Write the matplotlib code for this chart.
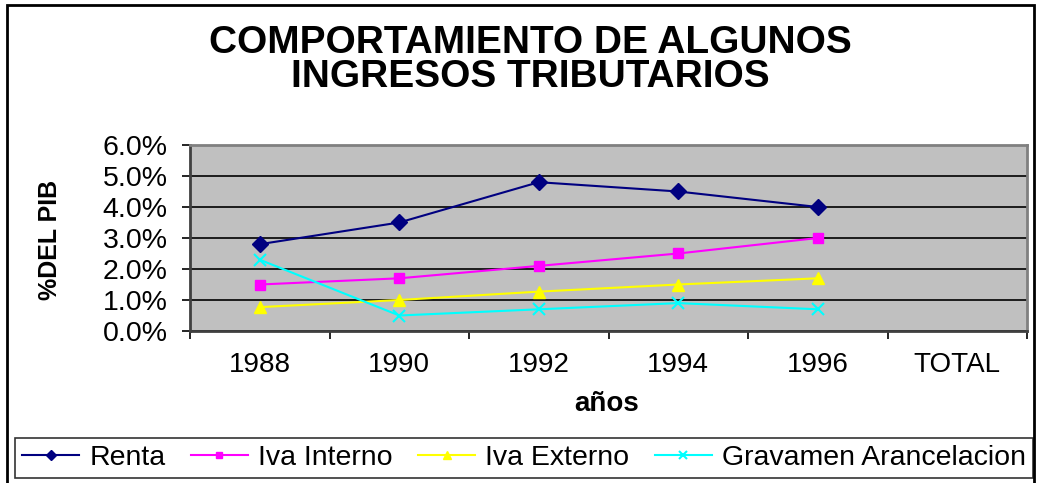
import matplotlib
matplotlib.use("Agg")
import matplotlib.pyplot as plt
from matplotlib.ticker import PercentFormatter, FixedLocator
from matplotlib.patches import Rectangle

categories = ["1988", "1990", "1992", "1994", "1996", "TOTAL"]
renta = [2.8, 3.5, 4.8, 4.5, 4.0]
iva_interno = [1.5, 1.7, 2.1, 2.5, 3.0]
iva_externo = [0.77, 1.0, 1.27, 1.5, 1.7]
gravamen = [2.3, 0.5, 0.7, 0.9, 0.7]
series_names = ["Renta", "Iva Interno", "Iva Externo", "Gravamen Arancelacion"]
title_lines = ["COMPORTAMIENTO DE ALGUNOS", "INGRESOS TRIBUTARIOS"]

plt.rcParams['font.family'] = ['Liberation Sans', 'DejaVu Sans']

W, H = 1037, 483
fig = plt.figure(figsize=(W / 100, H / 100), dpi=100)
fig.patch.set_facecolor("white")

ax = fig.add_axes([190 / W, 1 - 331 / H, (1027 - 190) / W, (331 - 145) / H])
ax.set_facecolor("#C0C0C0")

x = list(range(len(renta)))
styles = [
    (renta, "#000080", "D", 8.5, dict()),
    (iva_interno, "#FF00FF", "s", 7.5, dict()),
    (iva_externo, "#FFFF00", "^", 9, dict()),
    (gravamen, "#00FFFF", "x", 9, dict(markeredgewidth=1.5)),
]
handles = []
for (vals, col, mk, ms, extra), name in zip(styles, series_names):
    h, = ax.plot(x, [v / 100 for v in vals], color=col, marker=mk, markersize=ms,
                 linewidth=1.5, label=name, zorder=3, **extra)
    handles.append(h)

ax.set_xlim(-0.5, len(categories) - 0.5)
ax.set_ylim(0, 0.06)
ax.yaxis.set_major_locator(FixedLocator([i / 100 for i in range(7)]))
ax.yaxis.set_major_formatter(PercentFormatter(xmax=1, decimals=1))
ax.grid(axis="y", color="black", linewidth=1.2, zorder=1)
ax.set_axisbelow(True)

ax.set_xticks(range(len(categories)))
ax.set_xticklabels(categories)
ax.set_xticks([i - 0.5 for i in range(len(categories) + 1)], minor=True)
ax.tick_params(axis="x", which="major", length=0, pad=15, labelsize=20)
ax.tick_params(axis="x", which="minor", length=6, width=1.2, direction="out", color="black")
ax.tick_params(axis="y", which="major", length=6, width=1.2, direction="out", pad=10, labelsize=20.5)

for s in ["top", "right"]:
    ax.spines[s].set_color("#808080")
    ax.spines[s].set_linewidth(2)
for s in ["left", "bottom"]:
    ax.spines[s].set_color("#404040")
    ax.spines[s].set_linewidth(2)

fig.text(530 / W, 1 - 43 / H, title_lines[0], ha="center", va="center",
         fontsize=28, fontweight="bold")
fig.text(530 / W, 1 - 77 / H, title_lines[1], ha="center", va="center",
         fontsize=28, fontweight="bold")

fig.text(607 / W, 1 - 404 / H, "años", ha="center", va="center",
         fontsize=20, fontweight="bold")
fig.text(50 / W, 1 - 240 / H, "%DEL PIB", ha="center", va="center",
         rotation=90, fontsize=18, fontweight="bold")

leg = fig.legend(handles=handles, loc="center", bbox_to_anchor=(524 / W, 1 - 458 / H),
                 ncol=4, frameon=True, fancybox=False, edgecolor="black",
                 fontsize=20.5, handlelength=2.0, handletextpad=0.35, columnspacing=0.9,
                 borderpad=0.25, markerscale=0.6)
leg.get_frame().set_linewidth(1.2)

fig.patches.append(Rectangle((7 / W, -0.05), (1034 - 7) / W, 1.05 - 5 / H,
                             transform=fig.transFigure, fill=False,
                             edgecolor="black", linewidth=2, clip_on=False))

fig.savefig("out.png", dpi=100)
